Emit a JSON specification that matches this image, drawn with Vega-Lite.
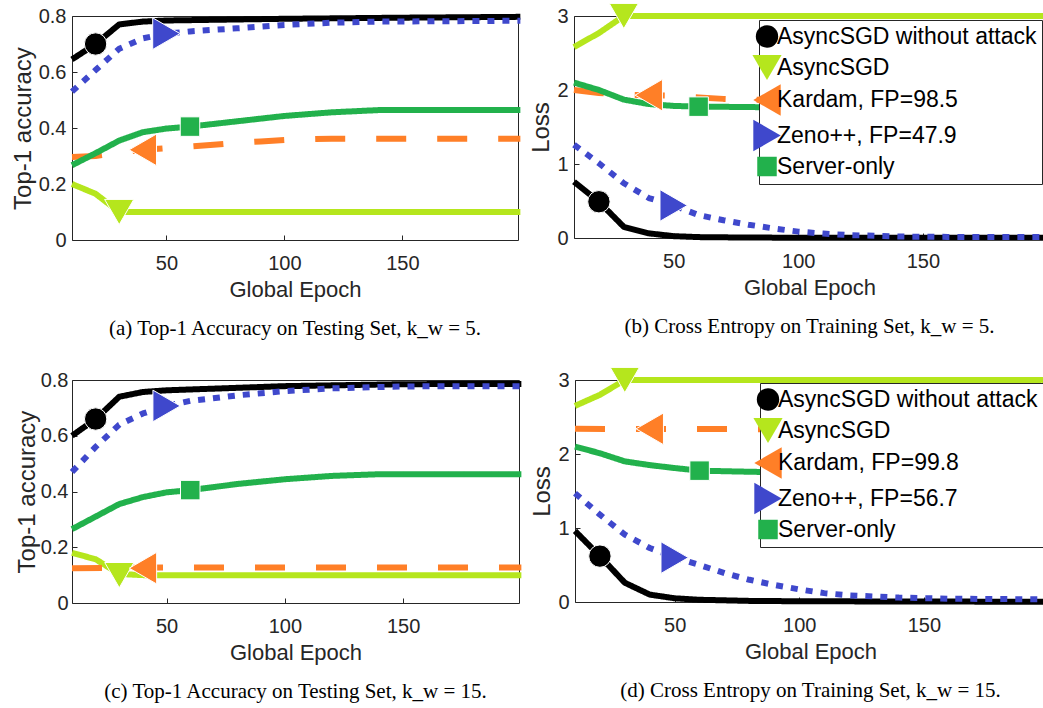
{
  "$schema": "https://vega.github.io/schema/vega-lite/v6.json",
  "padding": {"left": 10, "top": 0, "right": 0, "bottom": 0},
  "background": "white",
  "config": {
    "font": "Liberation Sans",
    "view": {"stroke": "#262626", "strokeWidth": 1},
    "axis": {"labelFont": "Liberation Sans", "labelFontSize": 20, "labelColor": "#262626", "titleFont": "Liberation Sans", "titleFontSize": 22, "titleFontWeight": "normal", "titleColor": "#262626", "domain": false, "grid": false, "tickColor": "#262626", "tickSize": -5},
    "axisX": {"labelPadding": 18, "titlePadding": 6},
    "axisY": {"labelPadding": 11, "titlePadding": 3, "titleFontSize": 24},
    "legend": {"title": null, "orient": "none", "labelFontSize": 23, "labelFont": "Liberation Sans", "labelColor": "black", "strokeColor": "#262626", "fillColor": "white", "padding": 5, "rowPadding": 3.5, "labelLimit": 400, "labelOffset": -6, "symbolOffset": -13, "symbolStrokeWidth": 0},
    "title": {"font": "Liberation Serif", "fontSize": 21, "fontWeight": "normal", "color": "black", "orient": "bottom", "offset": 18, "anchor": "middle"}
  },
  "datasets": {
    "lines": [
      {"panel":"a","method":"AsyncSGD without attack","epoch":10,"value":0.645},
      {"panel":"a","method":"AsyncSGD without attack","epoch":20,"value":0.70},
      {"panel":"a","method":"AsyncSGD without attack","epoch":30,"value":0.77},
      {"panel":"a","method":"AsyncSGD without attack","epoch":40,"value":0.78},
      {"panel":"a","method":"AsyncSGD without attack","epoch":50,"value":0.784},
      {"panel":"a","method":"AsyncSGD without attack","epoch":100,"value":0.79},
      {"panel":"a","method":"AsyncSGD without attack","epoch":150,"value":0.794},
      {"panel":"a","method":"AsyncSGD without attack","epoch":200,"value":0.797},
      {"panel":"a","method":"AsyncSGD","epoch":10,"value":0.20},
      {"panel":"a","method":"AsyncSGD","epoch":20,"value":0.165},
      {"panel":"a","method":"AsyncSGD","epoch":30,"value":0.10},
      {"panel":"a","method":"AsyncSGD","epoch":200,"value":0.10},
      {"panel":"a","method":"Kardam","epoch":10,"value":0.296},
      {"panel":"a","method":"Kardam","epoch":20,"value":0.30},
      {"panel":"a","method":"Kardam","epoch":30,"value":0.312},
      {"panel":"a","method":"Kardam","epoch":40,"value":0.322},
      {"panel":"a","method":"Kardam","epoch":50,"value":0.328},
      {"panel":"a","method":"Kardam","epoch":60,"value":0.334},
      {"panel":"a","method":"Kardam","epoch":70,"value":0.34},
      {"panel":"a","method":"Kardam","epoch":80,"value":0.347},
      {"panel":"a","method":"Kardam","epoch":90,"value":0.352},
      {"panel":"a","method":"Kardam","epoch":100,"value":0.357},
      {"panel":"a","method":"Kardam","epoch":110,"value":0.36},
      {"panel":"a","method":"Kardam","epoch":120,"value":0.362},
      {"panel":"a","method":"Kardam","epoch":200,"value":0.362},
      {"panel":"a","method":"Zeno++","epoch":10,"value":0.53},
      {"panel":"a","method":"Zeno++","epoch":20,"value":0.607},
      {"panel":"a","method":"Zeno++","epoch":30,"value":0.683},
      {"panel":"a","method":"Zeno++","epoch":40,"value":0.72},
      {"panel":"a","method":"Zeno++","epoch":50,"value":0.737},
      {"panel":"a","method":"Zeno++","epoch":60,"value":0.745},
      {"panel":"a","method":"Zeno++","epoch":80,"value":0.756},
      {"panel":"a","method":"Zeno++","epoch":100,"value":0.768},
      {"panel":"a","method":"Zeno++","epoch":120,"value":0.776},
      {"panel":"a","method":"Zeno++","epoch":140,"value":0.78},
      {"panel":"a","method":"Zeno++","epoch":200,"value":0.783},
      {"panel":"a","method":"Server-only","epoch":10,"value":0.267},
      {"panel":"a","method":"Server-only","epoch":20,"value":0.31},
      {"panel":"a","method":"Server-only","epoch":30,"value":0.355},
      {"panel":"a","method":"Server-only","epoch":40,"value":0.385},
      {"panel":"a","method":"Server-only","epoch":50,"value":0.398},
      {"panel":"a","method":"Server-only","epoch":60,"value":0.405},
      {"panel":"a","method":"Server-only","epoch":80,"value":0.424},
      {"panel":"a","method":"Server-only","epoch":100,"value":0.443},
      {"panel":"a","method":"Server-only","epoch":120,"value":0.456},
      {"panel":"a","method":"Server-only","epoch":140,"value":0.464},
      {"panel":"a","method":"Server-only","epoch":200,"value":0.464},

      {"panel":"b","method":"AsyncSGD without attack","epoch":10,"value":0.76},
      {"panel":"b","method":"AsyncSGD without attack","epoch":20,"value":0.49},
      {"panel":"b","method":"AsyncSGD without attack","epoch":30,"value":0.15},
      {"panel":"b","method":"AsyncSGD without attack","epoch":40,"value":0.063},
      {"panel":"b","method":"AsyncSGD without attack","epoch":50,"value":0.025},
      {"panel":"b","method":"AsyncSGD without attack","epoch":60,"value":0.012},
      {"panel":"b","method":"AsyncSGD without attack","epoch":80,"value":0.006},
      {"panel":"b","method":"AsyncSGD without attack","epoch":100,"value":0.004},
      {"panel":"b","method":"AsyncSGD without attack","epoch":200,"value":0.002},
      {"panel":"b","method":"AsyncSGD","epoch":10,"value":2.58},
      {"panel":"b","method":"AsyncSGD","epoch":20,"value":2.77},
      {"panel":"b","method":"AsyncSGD","epoch":30,"value":3.0},
      {"panel":"b","method":"AsyncSGD","epoch":200,"value":3.0},
      {"panel":"b","method":"Kardam","epoch":10,"value":2.0},
      {"panel":"b","method":"Kardam","epoch":20,"value":1.96},
      {"panel":"b","method":"Kardam","epoch":30,"value":1.935},
      {"panel":"b","method":"Kardam","epoch":40,"value":1.93},
      {"panel":"b","method":"Kardam","epoch":50,"value":1.925},
      {"panel":"b","method":"Kardam","epoch":60,"value":1.9},
      {"panel":"b","method":"Kardam","epoch":70,"value":1.88},
      {"panel":"b","method":"Kardam","epoch":80,"value":1.87},
      {"panel":"b","method":"Kardam","epoch":100,"value":1.86},
      {"panel":"b","method":"Kardam","epoch":150,"value":1.84},
      {"panel":"b","method":"Kardam","epoch":200,"value":1.82},
      {"panel":"b","method":"Zeno++","epoch":10,"value":1.26},
      {"panel":"b","method":"Zeno++","epoch":20,"value":1.01},
      {"panel":"b","method":"Zeno++","epoch":30,"value":0.74},
      {"panel":"b","method":"Zeno++","epoch":40,"value":0.54},
      {"panel":"b","method":"Zeno++","epoch":50,"value":0.44},
      {"panel":"b","method":"Zeno++","epoch":60,"value":0.31},
      {"panel":"b","method":"Zeno++","epoch":70,"value":0.24},
      {"panel":"b","method":"Zeno++","epoch":80,"value":0.18},
      {"panel":"b","method":"Zeno++","epoch":90,"value":0.13},
      {"panel":"b","method":"Zeno++","epoch":100,"value":0.086},
      {"panel":"b","method":"Zeno++","epoch":110,"value":0.06},
      {"panel":"b","method":"Zeno++","epoch":120,"value":0.04},
      {"panel":"b","method":"Zeno++","epoch":140,"value":0.02},
      {"panel":"b","method":"Zeno++","epoch":160,"value":0.015},
      {"panel":"b","method":"Zeno++","epoch":200,"value":0.012},
      {"panel":"b","method":"Server-only","epoch":10,"value":2.1},
      {"panel":"b","method":"Server-only","epoch":20,"value":2.0},
      {"panel":"b","method":"Server-only","epoch":30,"value":1.87},
      {"panel":"b","method":"Server-only","epoch":40,"value":1.81},
      {"panel":"b","method":"Server-only","epoch":50,"value":1.785},
      {"panel":"b","method":"Server-only","epoch":60,"value":1.775},
      {"panel":"b","method":"Server-only","epoch":80,"value":1.77},
      {"panel":"b","method":"Server-only","epoch":100,"value":1.76},
      {"panel":"b","method":"Server-only","epoch":150,"value":1.72},
      {"panel":"b","method":"Server-only","epoch":200,"value":1.69},

      {"panel":"c","method":"AsyncSGD without attack","epoch":10,"value":0.60},
      {"panel":"c","method":"AsyncSGD without attack","epoch":20,"value":0.66},
      {"panel":"c","method":"AsyncSGD without attack","epoch":30,"value":0.74},
      {"panel":"c","method":"AsyncSGD without attack","epoch":40,"value":0.757},
      {"panel":"c","method":"AsyncSGD without attack","epoch":50,"value":0.763},
      {"panel":"c","method":"AsyncSGD without attack","epoch":100,"value":0.778},
      {"panel":"c","method":"AsyncSGD without attack","epoch":150,"value":0.785},
      {"panel":"c","method":"AsyncSGD without attack","epoch":200,"value":0.786},
      {"panel":"c","method":"AsyncSGD","epoch":10,"value":0.18},
      {"panel":"c","method":"AsyncSGD","epoch":20,"value":0.157},
      {"panel":"c","method":"AsyncSGD","epoch":30,"value":0.104},
      {"panel":"c","method":"AsyncSGD","epoch":40,"value":0.10},
      {"panel":"c","method":"AsyncSGD","epoch":200,"value":0.10},
      {"panel":"c","method":"Kardam","epoch":10,"value":0.125},
      {"panel":"c","method":"Kardam","epoch":50,"value":0.127},
      {"panel":"c","method":"Kardam","epoch":200,"value":0.127},
      {"panel":"c","method":"Zeno++","epoch":10,"value":0.47},
      {"panel":"c","method":"Zeno++","epoch":20,"value":0.56},
      {"panel":"c","method":"Zeno++","epoch":30,"value":0.64},
      {"panel":"c","method":"Zeno++","epoch":40,"value":0.68},
      {"panel":"c","method":"Zeno++","epoch":50,"value":0.707},
      {"panel":"c","method":"Zeno++","epoch":60,"value":0.725},
      {"panel":"c","method":"Zeno++","epoch":80,"value":0.745},
      {"panel":"c","method":"Zeno++","epoch":100,"value":0.76},
      {"panel":"c","method":"Zeno++","epoch":120,"value":0.77},
      {"panel":"c","method":"Zeno++","epoch":150,"value":0.777},
      {"panel":"c","method":"Zeno++","epoch":200,"value":0.778},
      {"panel":"c","method":"Server-only","epoch":10,"value":0.265},
      {"panel":"c","method":"Server-only","epoch":20,"value":0.31},
      {"panel":"c","method":"Server-only","epoch":30,"value":0.355},
      {"panel":"c","method":"Server-only","epoch":40,"value":0.38},
      {"panel":"c","method":"Server-only","epoch":50,"value":0.397},
      {"panel":"c","method":"Server-only","epoch":60,"value":0.405},
      {"panel":"c","method":"Server-only","epoch":80,"value":0.427},
      {"panel":"c","method":"Server-only","epoch":100,"value":0.444},
      {"panel":"c","method":"Server-only","epoch":120,"value":0.456},
      {"panel":"c","method":"Server-only","epoch":140,"value":0.462},
      {"panel":"c","method":"Server-only","epoch":200,"value":0.462},

      {"panel":"d","method":"AsyncSGD without attack","epoch":10,"value":0.96},
      {"panel":"d","method":"AsyncSGD without attack","epoch":20,"value":0.62},
      {"panel":"d","method":"AsyncSGD without attack","epoch":30,"value":0.26},
      {"panel":"d","method":"AsyncSGD without attack","epoch":40,"value":0.1},
      {"panel":"d","method":"AsyncSGD without attack","epoch":50,"value":0.05},
      {"panel":"d","method":"AsyncSGD without attack","epoch":60,"value":0.03},
      {"panel":"d","method":"AsyncSGD without attack","epoch":80,"value":0.015},
      {"panel":"d","method":"AsyncSGD without attack","epoch":100,"value":0.01},
      {"panel":"d","method":"AsyncSGD without attack","epoch":200,"value":0.003},
      {"panel":"d","method":"AsyncSGD","epoch":10,"value":2.65},
      {"panel":"d","method":"AsyncSGD","epoch":20,"value":2.8},
      {"panel":"d","method":"AsyncSGD","epoch":30,"value":3.0},
      {"panel":"d","method":"AsyncSGD","epoch":200,"value":3.0},
      {"panel":"d","method":"Kardam","epoch":10,"value":2.34},
      {"panel":"d","method":"Kardam","epoch":200,"value":2.33},
      {"panel":"d","method":"Zeno++","epoch":10,"value":1.47},
      {"panel":"d","method":"Zeno++","epoch":20,"value":1.18},
      {"panel":"d","method":"Zeno++","epoch":30,"value":0.91},
      {"panel":"d","method":"Zeno++","epoch":40,"value":0.73},
      {"panel":"d","method":"Zeno++","epoch":50,"value":0.6},
      {"panel":"d","method":"Zeno++","epoch":60,"value":0.5},
      {"panel":"d","method":"Zeno++","epoch":70,"value":0.39},
      {"panel":"d","method":"Zeno++","epoch":80,"value":0.3},
      {"panel":"d","method":"Zeno++","epoch":90,"value":0.23},
      {"panel":"d","method":"Zeno++","epoch":100,"value":0.17},
      {"panel":"d","method":"Zeno++","epoch":110,"value":0.12},
      {"panel":"d","method":"Zeno++","epoch":120,"value":0.09},
      {"panel":"d","method":"Zeno++","epoch":140,"value":0.06},
      {"panel":"d","method":"Zeno++","epoch":160,"value":0.045},
      {"panel":"d","method":"Zeno++","epoch":200,"value":0.035},
      {"panel":"d","method":"Server-only","epoch":10,"value":2.1},
      {"panel":"d","method":"Server-only","epoch":20,"value":2.01},
      {"panel":"d","method":"Server-only","epoch":30,"value":1.9},
      {"panel":"d","method":"Server-only","epoch":40,"value":1.85},
      {"panel":"d","method":"Server-only","epoch":50,"value":1.81},
      {"panel":"d","method":"Server-only","epoch":60,"value":1.775},
      {"panel":"d","method":"Server-only","epoch":80,"value":1.76},
      {"panel":"d","method":"Server-only","epoch":100,"value":1.75},
      {"panel":"d","method":"Server-only","epoch":150,"value":1.72},
      {"panel":"d","method":"Server-only","epoch":200,"value":1.68}
    ],
    "markers": [
      {"panel":"a","method":"AsyncSGD without attack","epoch":20,"value":0.70},
      {"panel":"a","method":"AsyncSGD","epoch":30,"value":0.10},
      {"panel":"a","method":"Kardam","epoch":40,"value":0.322},
      {"panel":"a","method":"Zeno++","epoch":50,"value":0.737},
      {"panel":"a","method":"Server-only","epoch":60,"value":0.405},
      {"panel":"b","method":"AsyncSGD without attack","epoch":20,"value":0.49},
      {"panel":"b","method":"AsyncSGD","epoch":30,"value":3.0},
      {"panel":"b","method":"Kardam","epoch":40,"value":1.93},
      {"panel":"b","method":"Zeno++","epoch":50,"value":0.44},
      {"panel":"b","method":"Server-only","epoch":60,"value":1.775},
      {"panel":"c","method":"AsyncSGD without attack","epoch":20,"value":0.66},
      {"panel":"c","method":"AsyncSGD","epoch":30,"value":0.10},
      {"panel":"c","method":"Kardam","epoch":40,"value":0.125},
      {"panel":"c","method":"Zeno++","epoch":50,"value":0.707},
      {"panel":"c","method":"Server-only","epoch":60,"value":0.405},
      {"panel":"d","method":"AsyncSGD without attack","epoch":20,"value":0.62},
      {"panel":"d","method":"AsyncSGD","epoch":30,"value":3.0},
      {"panel":"d","method":"Kardam","epoch":40,"value":2.34},
      {"panel":"d","method":"Zeno++","epoch":50,"value":0.6},
      {"panel":"d","method":"Server-only","epoch":60,"value":1.775}
    ]
  },
  "resolve": {"scale": {"color": "independent", "stroke": "independent", "shape": "independent", "size": "independent", "strokeDash": "independent"}, "legend": {"color": "independent", "shape": "independent", "size": "independent"}},
  "spacing": 24,
  "vconcat": [
    {
      "spacing": 5,
      "resolve": {"scale": {"color": "independent", "stroke": "independent", "shape": "independent", "size": "independent", "strokeDash": "independent"}, "legend": {"color": "independent", "shape": "independent", "size": "independent"}},
      "hconcat": [
        {
          "width": 446, "height": 224,
          "title": {"text": "(a) Top-1 Accuracy on Testing Set, k_w = 5."},
          "layer": [
            {
              "data": {"name": "lines"},
              "transform": [{"filter": "datum.panel == 'a'"}],
              "mark": {"type": "line", "strokeWidth": 6, "strokeCap": "butt", "strokeJoin": "round", "clip": false},
              "encoding": {
                "x": {"field": "epoch", "type": "quantitative", "scale": {"domain": [10, 199], "nice": false, "zero": false}, "axis": {"values": [50, 100, 150], "title": "Global Epoch"}},
                "y": {"field": "value", "type": "quantitative", "scale": {"domain": [0, 0.8], "nice": false}, "axis": {"values": [0, 0.2, 0.4, 0.6, 0.8], "labelExpr": "datum.value == 0 ? '0' : format(datum.value, '.1f')", "title": "Top-1 accuracy"}},
                "stroke": {"field": "method", "type": "nominal", "scale": {"range": ["#B5E61D", "#000000", "#FF7F27", "#22B14C", "#3F48CC"]}, "legend": null},
                "strokeDash": {"field": "method", "type": "nominal", "scale": {"range": [[1, 0], [1, 0], [30, 31], [1, 0], [7, 8]]}, "legend": null}
              }
            },
            {
              "data": {"name": "markers"},
              "transform": [{"filter": "datum.panel == 'a'"}],
              "mark": {"type": "point", "filled": true, "opacity": 1, "stroke": "white", "strokeWidth": 1, "clip": false},
              "encoding": {
                "x": {"field": "epoch", "type": "quantitative"},
                "y": {"field": "value", "type": "quantitative"},
                "color": {"field": "method", "type": "nominal", "scale": {"domain": ["AsyncSGD without attack", "AsyncSGD", "Kardam", "Zeno++", "Server-only"], "range": ["#000000", "#B5E61D", "#FF7F27", "#3F48CC", "#22B14C"]}, "legend": null},
                "shape": {"field": "method", "type": "nominal", "scale": {"domain": ["AsyncSGD without attack", "AsyncSGD", "Kardam", "Zeno++", "Server-only"], "range": ["circle", "triangle-down", "triangle-left", "triangle-right", "square"]}, "legend": null},
                "size": {"field": "method", "type": "nominal", "scale": {"type": "ordinal", "domain": ["AsyncSGD without attack", "AsyncSGD", "Kardam", "Zeno++", "Server-only"], "range": [500, 850, 1000, 1000, 380]}, "legend": null}
              }
            }
          ]
        },
        {
          "width": 471, "height": 222,
          "title": {"text": "(b) Cross Entropy on Training Set, k_w = 5."},
          "layer": [
            {
              "data": {"name": "lines"},
              "transform": [{"filter": "datum.panel == 'b'"}],
              "mark": {"type": "line", "strokeWidth": 6, "strokeCap": "butt", "strokeJoin": "round", "clip": false},
              "encoding": {
                "x": {"field": "epoch", "type": "quantitative", "scale": {"domain": [10, 199], "nice": false, "zero": false}, "axis": {"values": [50, 100, 150], "title": "Global Epoch"}},
                "y": {"field": "value", "type": "quantitative", "scale": {"domain": [0, 3], "nice": false}, "axis": {"values": [0, 1, 2, 3], "format": "d", "title": "Loss"}},
                "stroke": {"field": "method", "type": "nominal", "scale": {"range": ["#B5E61D", "#000000", "#FF7F27", "#22B14C", "#3F48CC"]}, "legend": null},
                "strokeDash": {"field": "method", "type": "nominal", "scale": {"range": [[1, 0], [1, 0], [30, 31], [1, 0], [7, 8]]}, "legend": null}
              }
            },
            {
              "data": {"name": "markers"},
              "transform": [{"filter": "datum.panel == 'b'"}],
              "mark": {"type": "point", "filled": true, "opacity": 1, "stroke": "white", "strokeWidth": 1, "clip": false},
              "encoding": {
                "x": {"field": "epoch", "type": "quantitative"},
                "y": {"field": "value", "type": "quantitative"},
                "color": {"field": "method", "type": "nominal", "scale": {"domain": ["AsyncSGD without attack", "AsyncSGD", "Kardam", "Zeno++", "Server-only"], "range": ["#000000", "#B5E61D", "#FF7F27", "#3F48CC", "#22B14C"]}, "legend": {"legendX": 185, "legendY": 4, "labelExpr": "datum.label == 'Kardam' ? 'Kardam, FP=98.5' : datum.label == 'Zeno++' ? 'Zeno++, FP=47.9' : datum.label"}},
                "shape": {"field": "method", "type": "nominal", "scale": {"domain": ["AsyncSGD without attack", "AsyncSGD", "Kardam", "Zeno++", "Server-only"], "range": ["circle", "triangle-down", "triangle-left", "triangle-right", "square"]}, "legend": {"legendX": 185, "legendY": 4, "labelExpr": "datum.label == 'Kardam' ? 'Kardam, FP=98.5' : datum.label == 'Zeno++' ? 'Zeno++, FP=47.9' : datum.label"}},
                "size": {"field": "method", "type": "nominal", "scale": {"type": "ordinal", "domain": ["AsyncSGD without attack", "AsyncSGD", "Kardam", "Zeno++", "Server-only"], "range": [500, 850, 1000, 1000, 380]}, "legend": {"legendX": 185, "legendY": 4, "labelExpr": "datum.label == 'Kardam' ? 'Kardam, FP=98.5' : datum.label == 'Zeno++' ? 'Zeno++, FP=47.9' : datum.label"}}
              }
            }
          ]
        }
      ]
    },
    {
      "spacing": 5,
      "resolve": {"scale": {"color": "independent", "stroke": "independent", "shape": "independent", "size": "independent", "strokeDash": "independent"}, "legend": {"color": "independent", "shape": "independent", "size": "independent"}},
      "hconcat": [
        {
          "width": 447, "height": 223,
          "title": {"text": "(c) Top-1 Accuracy on Testing Set, k_w = 15."},
          "layer": [
            {
              "data": {"name": "lines"},
              "transform": [{"filter": "datum.panel == 'c'"}],
              "mark": {"type": "line", "strokeWidth": 6, "strokeCap": "butt", "strokeJoin": "round", "clip": false},
              "encoding": {
                "x": {"field": "epoch", "type": "quantitative", "scale": {"domain": [10, 199], "nice": false, "zero": false}, "axis": {"values": [50, 100, 150], "title": "Global Epoch"}},
                "y": {"field": "value", "type": "quantitative", "scale": {"domain": [0, 0.8], "nice": false}, "axis": {"values": [0, 0.2, 0.4, 0.6, 0.8], "labelExpr": "datum.value == 0 ? '0' : format(datum.value, '.1f')", "title": "Top-1 accuracy", "labelPadding": 9, "titlePadding": 1}},
                "stroke": {"field": "method", "type": "nominal", "scale": {"range": ["#B5E61D", "#000000", "#FF7F27", "#22B14C", "#3F48CC"]}, "legend": null},
                "strokeDash": {"field": "method", "type": "nominal", "scale": {"range": [[1, 0], [1, 0], [30, 31], [1, 0], [7, 8]]}, "legend": null}
              }
            },
            {
              "data": {"name": "markers"},
              "transform": [{"filter": "datum.panel == 'c'"}],
              "mark": {"type": "point", "filled": true, "opacity": 1, "stroke": "white", "strokeWidth": 1, "clip": false},
              "encoding": {
                "x": {"field": "epoch", "type": "quantitative"},
                "y": {"field": "value", "type": "quantitative"},
                "color": {"field": "method", "type": "nominal", "scale": {"domain": ["AsyncSGD without attack", "AsyncSGD", "Kardam", "Zeno++", "Server-only"], "range": ["#000000", "#B5E61D", "#FF7F27", "#3F48CC", "#22B14C"]}, "legend": null},
                "shape": {"field": "method", "type": "nominal", "scale": {"domain": ["AsyncSGD without attack", "AsyncSGD", "Kardam", "Zeno++", "Server-only"], "range": ["circle", "triangle-down", "triangle-left", "triangle-right", "square"]}, "legend": null},
                "size": {"field": "method", "type": "nominal", "scale": {"type": "ordinal", "domain": ["AsyncSGD without attack", "AsyncSGD", "Kardam", "Zeno++", "Server-only"], "range": [500, 850, 1000, 1000, 380]}, "legend": null}
              }
            }
          ]
        },
        {
          "width": 471, "height": 222,
          "title": {"text": "(d) Cross Entropy on Training Set, k_w = 15."},
          "layer": [
            {
              "data": {"name": "lines"},
              "transform": [{"filter": "datum.panel == 'd'"}],
              "mark": {"type": "line", "strokeWidth": 6, "strokeCap": "butt", "strokeJoin": "round", "clip": false},
              "encoding": {
                "x": {"field": "epoch", "type": "quantitative", "scale": {"domain": [10, 199], "nice": false, "zero": false}, "axis": {"values": [50, 100, 150], "title": "Global Epoch"}},
                "y": {"field": "value", "type": "quantitative", "scale": {"domain": [0, 3], "nice": false}, "axis": {"values": [0, 1, 2, 3], "format": "d", "title": "Loss"}},
                "stroke": {"field": "method", "type": "nominal", "scale": {"range": ["#B5E61D", "#000000", "#FF7F27", "#22B14C", "#3F48CC"]}, "legend": null},
                "strokeDash": {"field": "method", "type": "nominal", "scale": {"range": [[1, 0], [1, 0], [30, 31], [1, 0], [7, 8]]}, "legend": null}
              }
            },
            {
              "data": {"name": "markers"},
              "transform": [{"filter": "datum.panel == 'd'"}],
              "mark": {"type": "point", "filled": true, "opacity": 1, "stroke": "white", "strokeWidth": 1, "clip": false},
              "encoding": {
                "x": {"field": "epoch", "type": "quantitative"},
                "y": {"field": "value", "type": "quantitative"},
                "color": {"field": "method", "type": "nominal", "scale": {"domain": ["AsyncSGD without attack", "AsyncSGD", "Kardam", "Zeno++", "Server-only"], "range": ["#000000", "#B5E61D", "#FF7F27", "#3F48CC", "#22B14C"]}, "legend": {"legendX": 185, "legendY": 3, "labelExpr": "datum.label == 'Kardam' ? 'Kardam, FP=99.8' : datum.label == 'Zeno++' ? 'Zeno++, FP=56.7' : datum.label"}},
                "shape": {"field": "method", "type": "nominal", "scale": {"domain": ["AsyncSGD without attack", "AsyncSGD", "Kardam", "Zeno++", "Server-only"], "range": ["circle", "triangle-down", "triangle-left", "triangle-right", "square"]}, "legend": {"legendX": 185, "legendY": 3, "labelExpr": "datum.label == 'Kardam' ? 'Kardam, FP=99.8' : datum.label == 'Zeno++' ? 'Zeno++, FP=56.7' : datum.label"}},
                "size": {"field": "method", "type": "nominal", "scale": {"type": "ordinal", "domain": ["AsyncSGD without attack", "AsyncSGD", "Kardam", "Zeno++", "Server-only"], "range": [500, 850, 1000, 1000, 380]}, "legend": {"legendX": 185, "legendY": 3, "labelExpr": "datum.label == 'Kardam' ? 'Kardam, FP=99.8' : datum.label == 'Zeno++' ? 'Zeno++, FP=56.7' : datum.label"}}
              }
            }
          ]
        }
      ]
    }
  ]
}
